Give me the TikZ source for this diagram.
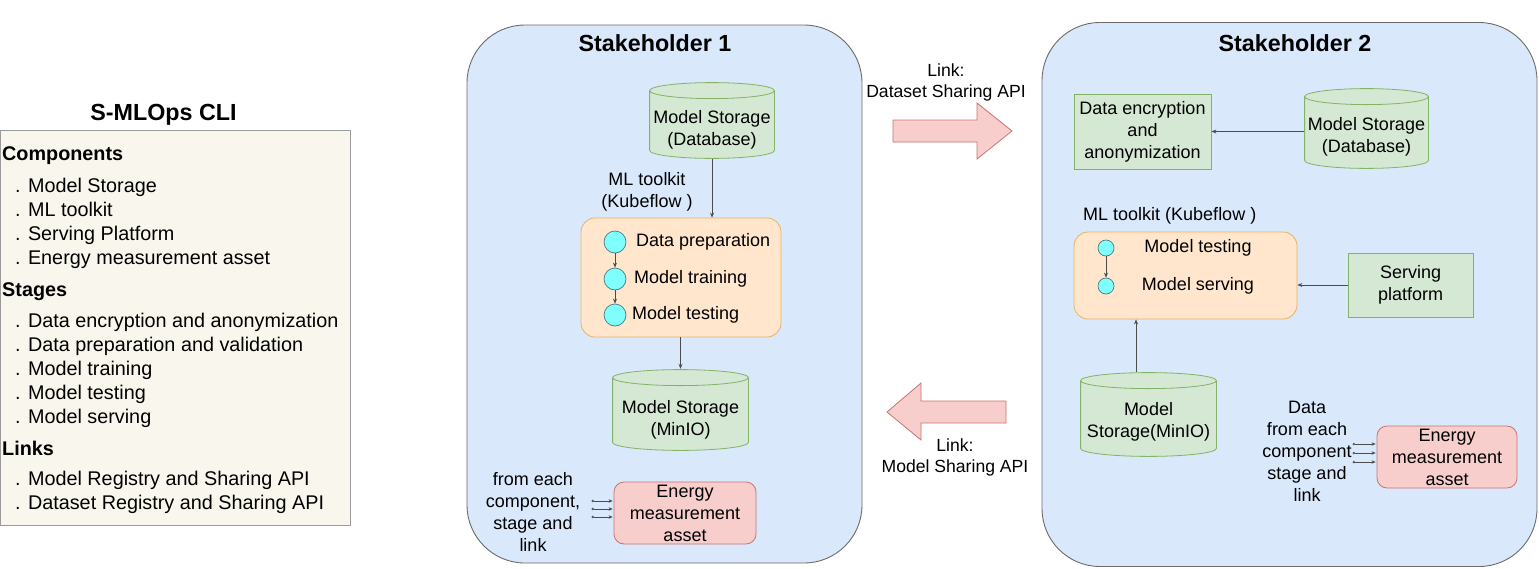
\documentclass[tikz,border=0pt]{standalone}
\usepackage{fontspec}
\setmainfont{Liberation Sans}
\usetikzlibrary{calc,arrows.meta,positioning}

\definecolor{cliFill}{HTML}{F9F7ED}
\definecolor{cliLine}{HTML}{9A9A9A}
\definecolor{shFill}{HTML}{DAE8FC}
\definecolor{shLine}{HTML}{6B6B6B}
\definecolor{grFill}{HTML}{D5E8D4}
\definecolor{grLine}{HTML}{82B366}
\definecolor{orFill}{HTML}{FFE6CC}
\definecolor{orLine}{HTML}{E3B46E}
\definecolor{rdFill}{HTML}{F8CECC}
\definecolor{rdLine}{HTML}{C8736F}
\definecolor{cyFill}{HTML}{80FFFF}
\definecolor{cyLine}{HTML}{4A7A7A}

\begin{document}
\begin{tikzpicture}[x=1pt, y=-1pt,
    txt/.style={font=\fontsize{18}{22}\selectfont, align=center, inner sep=0},
    clitxt/.style={font=\fontsize{19.8}{24}\selectfont, inner sep=0, anchor=base west},
    title/.style={font=\fontsize{23.3}{28}\selectfont\bfseries, inner sep=0},
    shbox/.style={draw=shLine, fill=shFill, line width=0.9, rounded corners=58},
    store/.style={inner sep=0, fill=shFill, path picture={
        \draw[draw=grLine, fill=grFill, line width=0.8]
            let \p1=(path picture bounding box.north west), \p2=(path picture bounding box.south east),
                \n1={(\x2-\x1)/2-0.6pt} in
            ({\x1+0.6pt},{\y1-8.6pt}) -- ({\x1+0.6pt},{\y2+8.6pt})
            arc[start angle=180, end angle=360, x radius=\n1, y radius=8pt]
            -- ({\x2-0.6pt},{\y1-8.6pt})
            arc[start angle=0, end angle=180, x radius=\n1, y radius=8pt] -- cycle
            ({(\x1+\x2)/2},{\y1-8.6pt}) ellipse [x radius=\n1, y radius=8pt];}},
    greenbox/.style={draw=grLine, fill=grFill, line width=0.8, txt},
    toolbox/.style={draw=orLine, fill=orFill, line width=0.8, rounded corners=14},
    energybox/.style={draw=rdLine, fill=rdFill, line width=0.8, rounded corners=10, txt},
    stage/.style={circle, draw=cyLine, fill=cyFill, line width=0.7, inner sep=0},
    conn/.style={draw=black!70, line width=0.7, -{Stealth[length=5,width=4]}},
    tiny/.style={draw=black!70, line width=0.6, {Circle[open,length=2.5,width=2.5]}-{Stealth[length=4,width=3.5]}},
    bigarrow/.style={draw=rdLine, fill=rdFill, line width=0.8}]

    \useasboundingbox (0,0) rectangle (1539,568);

    % S-MLOps CLI panel
    \node[title] (clititle) at (163.5,115) {S-MLOps CLI};
    \draw[draw=cliLine, fill=cliFill, line width=0.9] (0,130) rectangle (350,525);
    \node[clitxt, font=\fontsize{19.8}{24}\selectfont\bfseries] (hcomp) at (2,160) {Components};
    \foreach \y/\t in {192/Model Storage, 216/ML toolkit, 240/Serving Platform, 264/Energy measurement asset}
        \node[clitxt] (c\y) at (15,\y) {. \t};
    \node[clitxt, font=\fontsize{19.8}{24}\selectfont\bfseries] (hstage) at (2,296) {Stages};
    \foreach \y/\t in {327/Data encryption and anonymization, 351/Data preparation and validation,
        375/Model training, 399/Model testing, 423/Model serving}
        \node[clitxt] (s\y) at (15,\y) {. \t};
    \node[clitxt, font=\fontsize{19.8}{24}\selectfont\bfseries] (hlink) at (2,455) {Links};
    \foreach \y/\t in {485/Model Registry and Sharing API, 509/Dataset Registry and Sharing API}
        \node[clitxt] (l\y) at (15,\y) {. \t};

    % Stakeholder 1
    \node[shbox, minimum width=395, minimum height=538] (sh1) at (664.5,294) {};
    \node[title] (sh1title) at (655,43) {Stakeholder 1};
    \node[store, minimum width=126, minimum height=77,
        label={[txt, yshift=-9]center:Model Storage\\(Database)}] (db1) at (712,120.5) {};
    \node[txt] (kf1) at (647,192) {ML toolkit\\(Kubeflow )};
    \node[toolbox, minimum width=200, minimum height=119] (tk1) at (681,277.5) {};
    \node[stage, minimum size=22] (a1) at (615,242) {};
    \node[stage, minimum size=22] (a2) at (615,279) {};
    \node[stage, minimum size=22] (a3) at (615,315) {};
    \node[txt, anchor=west] (a1t) at (636,242) {Data preparation};
    \node[txt, anchor=west] (a2t) at (634,279) {Model training};
    \node[txt, anchor=west] (a3t) at (632,315) {Model testing};
    \node[store, minimum width=137, minimum height=82,
        label={[txt, yshift=-9.5]center:Model Storage\\(MinIO)}] (minio1) at (680.5,410) {};
    \node[txt] (from1) at (533,512) {from each\\component,\\stage and\\link};
    \node[energybox, minimum width=142, minimum height=62] (en1) at (685,513) {Energy\\measurement\\asset};

    \draw[conn] (db1.south) -- (db1.south |- tk1.north);
    \draw[conn] (a1) -- (a2);
    \draw[conn] (a2) -- (a3);
    \draw[conn] (minio1.north |- tk1.south) -- (minio1.north);
    \foreach \dy in {12,4,-4}
        \draw[tiny] ([xshift=-22,yshift=\dy]en1.west) -- ([xshift=-1,yshift=\dy]en1.west);

    % Links between stakeholders
    \node[txt, font=\fontsize{17.6}{21}\selectfont] (dslink) at (946,82) {Link:\\Dataset Sharing API};
    \draw[bigarrow] (893,120) -- (977,120) -- (977,103) -- (1012,131) -- (977,159) -- (977,142) -- (893,142) -- cycle;
    \node[txt, font=\fontsize{17.6}{21}\selectfont] (mslink) at (955,457.5) {Link:\\Model Sharing API};
    \draw[bigarrow] (1006,401) -- (921,401) -- (921,383) -- (887,412) -- (921,440) -- (921,423) -- (1006,423) -- cycle;

    % Stakeholder 2
    \node[shbox, minimum width=495, minimum height=544] (sh2) at (1289.5,294.5) {};
    \node[title] (sh2title) at (1295,43) {Stakeholder 2};
    \node[greenbox, minimum width=137, minimum height=75] (enc) at (1142.5,131.5) {Data encryption\\and\\anonymization};
    \node[store, minimum width=125, minimum height=81,
        label={[txt, yshift=-8.5]center:Model Storage\\(Database)}] (db2) at (1366.5,128.5) {};
    \node[txt, anchor=west] (kf2) at (1083,216) {ML toolkit (Kubeflow )};
    \node[toolbox, minimum width=223, minimum height=87] (tk2) at (1185.5,275.5) {};
    \node[stage, minimum size=16] (b1) at (1106,248) {};
    \node[stage, minimum size=16] (b2) at (1106,286) {};
    \node[txt] (b1t) at (1198,248) {Model testing};
    \node[txt] (b2t) at (1198,286) {Model serving};
    \node[greenbox, minimum width=125, minimum height=64] (serve) at (1410.5,285) {Serving\\platform};
    \node[store, minimum width=137, minimum height=85,
        label={[txt, yshift=-7.5]center:Model\\Storage(MinIO)}] (minio2) at (1148.5,414.5) {};
    \node[txt] (from2) at (1307,451) {Data\\from each\\component\\stage and\\link};
    \node[energybox, minimum width=140, minimum height=62] (en2) at (1447,457) {Energy\\measurement\\asset};

    \draw[conn] (db2.west |- enc.east) -- (enc.east);
    \draw[conn] (b1) -- (b2);
    \draw[conn] (serve.west) -- (serve.west -| tk2.east);
    \draw[conn] ([xshift=-12.5]minio2.north) -- ([xshift=-12.5]minio2.north |- tk2.south);
    \foreach \dy in {13,4,-5}
        \draw[tiny] ([xshift=-24,yshift=\dy]en2.west) -- ([xshift=-1,yshift=\dy]en2.west);

\end{tikzpicture}
\end{document}
